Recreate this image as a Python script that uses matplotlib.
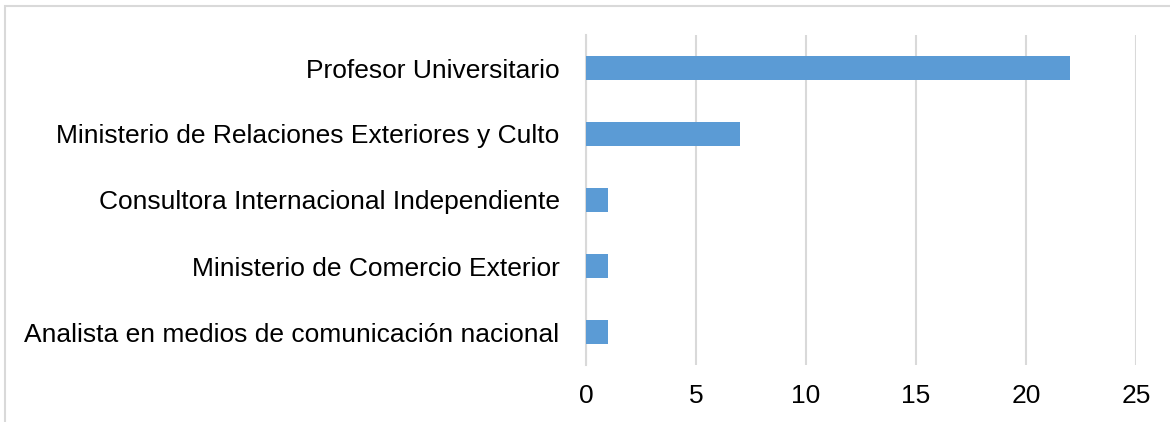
import matplotlib
matplotlib.use("Agg")
import matplotlib.pyplot as plt
from matplotlib.patches import Rectangle

categories = [
    "Analista en medios de comunicación nacional",
    "Ministerio de Comercio Exterior",
    "Consultora Internacional Independiente",
    "Ministerio de Relaciones Exteriores y Culto",
    "Profesor Universitario",
]
values = [1, 1, 1, 7, 22]
xticks = [0, 5, 10, 15, 20, 25]

plt.rcParams["font.family"] = ["Liberation Sans", "DejaVu Sans"]

fig = plt.figure(figsize=(11.7, 4.22), dpi=100)
ax = fig.add_axes([586 / 1170, 1 - 365 / 422, 550 / 1170, 330 / 422])

ax.barh(range(len(categories)), values, height=0.35, color="#5b9bd5", zorder=3)

ax.set_xlim(0, 25)
ax.set_ylim(-0.5, len(categories) - 0.5)
ax.set_xticks(xticks)
ax.set_yticks(range(len(categories)))
ax.set_yticklabels(categories)

ax.grid(axis="x", color="#d9d9d9", linewidth=1.5, zorder=0)
ax.set_axisbelow(True)
for s in ["top", "right", "bottom"]:
    ax.spines[s].set_visible(False)
ax.spines["left"].set_color("#d9d9d9")
ax.spines["left"].set_linewidth(1.5)

ax.tick_params(axis="both", length=0, labelsize=19)
ax.tick_params(axis="y", pad=19)
ax.tick_params(axis="x", pad=14)

# outer chart border (top and left visible)
fig.patches.append(Rectangle((5 / 1170, -0.1), 1.2, 1 - 6 / 422 + 0.1,
                             transform=fig.transFigure, fill=False,
                             edgecolor="#d9d9d9", linewidth=1.5))

fig.savefig("out.png", dpi=100)
